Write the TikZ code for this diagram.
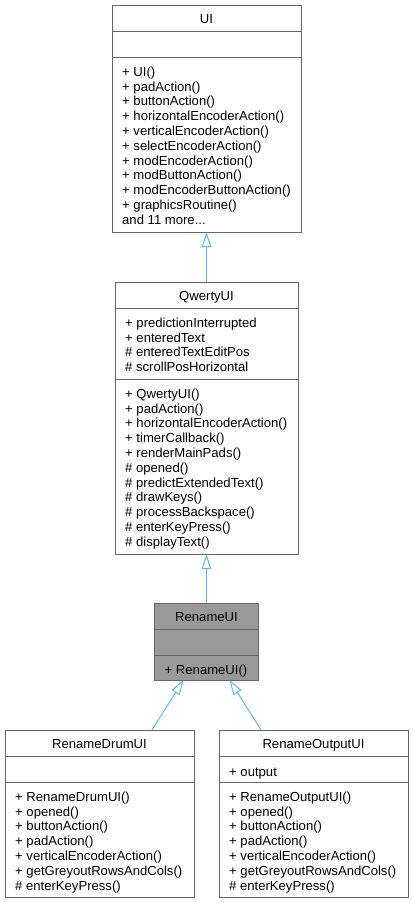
\documentclass[tikz,border=0pt]{standalone}
\usepackage{fontspec}
\setmainfont{Liberation Sans}
\usetikzlibrary{arrows.meta}
\definecolor{edgeblue}{HTML}{63B8FF}
\definecolor{boxgray}{HTML}{666666}
\definecolor{currentgray}{HTML}{999999}

\begin{document}
\begin{tikzpicture}[x=1pt,y=-1pt,
	font=\fontsize{13.1}{14.8}\selectfont,
	classbox/.style={draw=boxgray, line width=1pt, fill=white, inner sep=0pt, outer sep=0pt},
	sepline/.style={draw=boxgray, line width=1pt},
	title/.style={anchor=base, inner sep=0pt},
	members/.style={anchor=north west, align=left, inner sep=0pt, execute at begin node=\strut},
	inherit/.style={draw=edgeblue, line width=1pt, -{Triangle[open, length=15pt, width=9.5pt]}}]
	\useasboundingbox (0,0) rectangle (413,903);

	% base class
	\node[classbox, minimum width=189, minimum height=227] (ui) at (206.5,118.5) {};
	\draw[sepline] ([yshift=-26pt]ui.north west) -- ([yshift=-26pt]ui.north east);
	\draw[sepline] ([yshift=-52pt]ui.north west) -- ([yshift=-52pt]ui.north east);
	\node[title] (ui-name) at ([shift={(0,18.5)}]ui.north) {UI};
	\node[members] (ui-ops) at ([shift={(10,61.6)}]ui.north west) {+ UI()\\+ padAction()\\+ buttonAction()\\+ horizontalEncoderAction()\\+ verticalEncoderAction()\\+ selectEncoderAction()\\+ modEncoderAction()\\+ modButtonAction()\\+ modEncoderButtonAction()\\+ graphicsRoutine()\\and 11 more...};

	\node[classbox, minimum width=183, minimum height=272] (qwerty) at (206.5,418) {};
	\draw[sepline] ([yshift=-26pt]qwerty.north west) -- ([yshift=-26pt]qwerty.north east);
	\draw[sepline] ([yshift=-97pt]qwerty.north west) -- ([yshift=-97pt]qwerty.north east);
	\node[title] (qwerty-name) at ([shift={(0,18.5)}]qwerty.north) {QwertyUI};
	\node[members] (qwerty-attrs) at ([shift={(10,35.6)}]qwerty.north west) {+ predictionInterrupted\\+ enteredText\\\# enteredTextEditPos\\\# scrollPosHorizontal};
	\node[members] (qwerty-ops) at ([shift={(10,106.6)}]qwerty.north west) {+ QwertyUI()\\+ padAction()\\+ horizontalEncoderAction()\\+ timerCallback()\\+ renderMainPads()\\\# opened()\\\# predictExtendedText()\\\# drawKeys()\\\# processBackspace()\\\# enterKeyPress()\\\# displayText()};

	% the documented class
	\node[classbox, fill=currentgray, minimum width=104, minimum height=77] (rename) at (206.5,641.5) {};
	\draw[sepline] ([yshift=-26pt]rename.north west) -- ([yshift=-26pt]rename.north east);
	\draw[sepline] ([yshift=-52pt]rename.north west) -- ([yshift=-52pt]rename.north east);
	\node[title] (rename-name) at ([shift={(0,18.5)}]rename.north) {RenameUI};
	\node[members] (rename-ops) at ([shift={(10,60.6)}]rename.north west) {+ RenameUI()};

	% derived classes
	\node[classbox, minimum width=189, minimum height=167] (drum) at (99.5,813.5) {};
	\draw[sepline] ([yshift=-26pt]drum.north west) -- ([yshift=-26pt]drum.north east);
	\draw[sepline] ([yshift=-52pt]drum.north west) -- ([yshift=-52pt]drum.north east);
	\node[title] (drum-name) at ([shift={(0,18.5)}]drum.north) {RenameDrumUI};
	\node[members] (drum-ops) at ([shift={(10,61.6)}]drum.north west) {+ RenameDrumUI()\\+ opened()\\+ buttonAction()\\+ padAction()\\+ verticalEncoderAction()\\+ getGreyoutRowsAndCols()\\\# enterKeyPress()};

	\node[classbox, minimum width=189, minimum height=167] (output) at (313.5,813.5) {};
	\draw[sepline] ([yshift=-26pt]output.north west) -- ([yshift=-26pt]output.north east);
	\draw[sepline] ([yshift=-52pt]output.north west) -- ([yshift=-52pt]output.north east);
	\node[title] (output-name) at ([shift={(0,18.5)}]output.north) {RenameOutputUI};
	\node[members] (output-attrs) at ([shift={(10,35.6)}]output.north west) {+ output};
	\node[members] (output-ops) at ([shift={(10,61.6)}]output.north west) {+ RenameOutputUI()\\+ opened()\\+ buttonAction()\\+ padAction()\\+ verticalEncoderAction()\\+ getGreyoutRowsAndCols()\\\# enterKeyPress()};

	% inheritance
	\draw[inherit] (qwerty.north) -- (ui.south);
	\draw[inherit] (rename.north) -- (qwerty.south);
	\draw[inherit] ([xshift=52.5pt]drum.north) -- ([xshift=-23pt]rename.south);
	\draw[inherit] ([xshift=-52.5pt]output.north) -- ([xshift=23pt]rename.south);

\end{tikzpicture}
\end{document}
